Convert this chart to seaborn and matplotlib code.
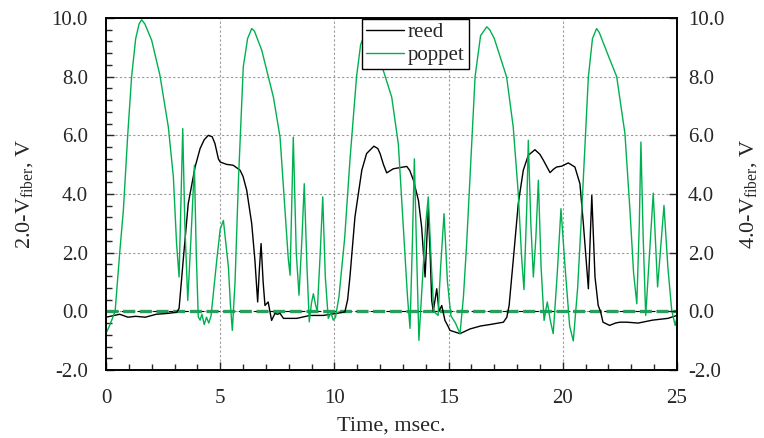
import matplotlib
matplotlib.use("Agg")
import matplotlib.pyplot as plt
from matplotlib.ticker import MultipleLocator, FormatStrFormatter
import seaborn as sns
import pandas as pd

# ---- data ----
poppet_t = [0.0, 0.15, 0.4, 0.6, 0.76, 0.95, 1.12, 1.3, 1.45, 1.56, 1.7, 2.0, 2.36, 2.73, 2.95, 3.09, 3.2,
            3.36, 3.45, 3.58, 3.72, 3.87, 3.95, 4.04, 4.12, 4.2, 4.3, 4.4, 4.5, 4.6, 4.85, 5.0, 5.14,
            5.36, 5.45, 5.53, 5.65, 5.8, 6.01, 6.2, 6.38, 6.5, 6.82, 7.33, 7.62, 7.84, 7.98, 8.06, 8.2,
            8.33, 8.45, 8.58, 8.68, 8.8, 8.9, 9.0, 9.08, 9.18, 9.25, 9.38, 9.49, 9.6, 9.73, 9.85,
            9.95, 10.05, 10.2, 10.45, 10.68, 10.97, 11.15, 11.34, 11.5, 12.0, 12.51, 12.8, 13.02, 13.2,
            13.31, 13.42, 13.5, 13.6, 13.7, 13.85, 14.0, 14.11, 14.25, 14.35, 14.54, 14.65, 14.8,
            14.95, 15.1, 15.3, 15.5, 15.65, 15.79, 16.0, 16.16, 16.4, 16.67, 16.8, 17.0, 17.54, 17.83,
            18.05, 18.2, 18.3, 18.42, 18.49, 18.6, 18.71, 18.82, 18.93, 19.05, 19.18, 19.32, 19.45,
            19.58, 19.75, 19.92, 20.1, 20.3, 20.46, 20.65, 20.83, 21.12, 21.3, 21.48, 21.6, 22.0, 22.36,
            22.72, 22.94, 23.1, 23.24, 23.35, 23.42, 23.52, 23.63, 23.8, 23.96, 24.05, 24.15, 24.3,
            24.43, 24.6, 24.77, 24.92, 25.0]
poppet_v = [-0.75, -0.5, 0.0, 2.0, 3.44, 6.0, 7.99, 9.3, 9.8, 9.94, 9.8, 9.24, 8.05, 6.28, 4.58, 2.3, 1.17,
            6.23, 3.0, 0.37, 2.5, 4.98, 2.0, -0.19, -0.3, -0.1, -0.45, -0.2, -0.4, -0.15, 1.75, 2.8, 3.1,
            1.5, 0.2, -0.65, 1.0, 4.5, 8.33, 9.3, 9.64, 9.55, 8.9, 7.3, 5.94, 3.44, 1.8, 1.23, 5.94,
            2.0, 0.55, 2.5, 4.35, 1.5, -0.36, 0.3, 0.6, 0.2, 0.0, 2.0, 3.9, 1.2, -0.24, -0.05,
            -0.3, -0.2, 0.5, 2.5, 5.15, 8.0, 9.1, 9.45, 9.35, 8.56, 7.3, 5.7, 2.87, 0.5,
            -0.58, 2.5, 5.2, 2.0, -0.99, 1.0, 3.0, 3.9, 1.5, 0.0, -0.14, 1.5, 3.33,
            1.0, -0.15, -0.4, -0.76, 0.5, 2.3, 5.5, 8.0, 9.4, 9.7, 9.6, 9.3, 7.99, 6.28,
            4.02, 1.8, 0.74, 3.5, 5.83, 3.0, 1.17, 2.5, 4.47, 1.5, -0.31, 0.32, -0.3,
            -0.76, 1.2, 3.5, 1.5, -0.5, -1.01, 0.8, 3.44, 8.0, 9.3, 9.64, 9.5, 8.7, 8.0,
            6.06, 3.44, 1.3, 0.26, 3.0, 5.77, 2.5, -0.14, 2.0, 4.03, 2.5, 0.83, 2.3,
            3.61, 1.5, 0.03, -0.48, -0.2]

reed_t = [0.0, 0.3, 0.6, 0.96, 1.3, 1.72, 2.2, 2.71, 3.1, 3.2, 3.38, 3.6, 3.9, 4.12, 4.3, 4.48,
          4.65, 4.77, 4.92, 5.0, 5.28, 5.57, 5.87, 6.0, 6.16, 6.38, 6.52, 6.64, 6.72, 6.79, 6.88,
          6.96, 7.1, 7.25, 7.4, 7.5, 7.62, 7.77, 8.35, 8.93, 9.51, 10.1, 10.46, 10.58, 10.68, 10.9,
          11.2, 11.41, 11.73, 11.9, 12.0, 12.15, 12.29, 12.58, 13.17, 13.3, 13.46, 13.68, 13.82,
          13.97, 14.05, 14.11, 14.2, 14.26, 14.33, 14.48, 14.58, 14.7, 14.84, 14.99, 15.06, 15.5,
          15.94, 16.4, 16.81, 17.4, 17.55, 17.65, 17.83, 18.05, 18.27, 18.49, 18.78, 19.0, 19.15,
          19.44, 19.6, 19.73, 19.96, 20.24, 20.53, 20.75, 20.9, 21.12, 21.2, 21.27, 21.41, 21.55,
          21.65, 21.76, 22.05, 22.3, 22.5, 22.8, 23.3, 23.93, 24.6, 25.0]
reed_v = [-0.2, -0.15, -0.1, -0.2, -0.17, -0.2, -0.1, -0.07, -0.03, 0.1, 1.74, 3.67, 4.92, 5.55, 5.85, 6.0,
          5.95, 5.72, 5.2, 5.09, 5.01, 4.98, 4.81, 4.6, 4.13, 2.99, 1.74, 0.32, 1.5, 2.31, 1.0,
          0.2, 0.32, -0.31, -0.07, -0.1, -0.07, -0.24, -0.24, -0.14, -0.14, -0.07, -0.02, 0.4, 1.17, 3.22,
          4.81, 5.38, 5.63, 5.55, 5.38, 5.0, 4.72, 4.86, 4.94, 4.8, 4.47, 3.78, 2.87,
          1.17, 2.5, 3.5, 1.8, 0.37, 0.0, 0.77, 0.0, 0.2, -0.31, -0.53, -0.65, -0.76,
          -0.6, -0.5, -0.45, -0.37, -0.2, 0.2, 1.74, 3.67, 4.81, 5.32, 5.51, 5.35, 5.15,
          4.73, 4.85, 4.92, 4.95, 5.06, 4.92, 4.35, 2.99, 0.77, 2.5, 3.95, 1.17, 0.2,
          0.0, -0.37, -0.48, -0.4, -0.37, -0.37, -0.4, -0.3, -0.24, -0.14]

series_names = ["reed", "poppet"]
series_colors = ["#000000", "#00b050"]
zero_line_color = "#2a9d5c"
x_label = "Time, msec."
y_left_label = r"2.0-V$_{\mathregular{fiber}}$, V"
y_right_label = r"4.0-V$_{\mathregular{fiber}}$, V"

# ---- style ----
sns.set_style("ticks")
plt.rcParams["font.family"] = ["Liberation Serif", "DejaVu Serif"]
plt.rcParams["mathtext.fontset"] = "custom"
plt.rcParams["mathtext.rm"] = "Liberation Serif"
plt.rcParams["mathtext.it"] = "Liberation Serif:italic"
plt.rcParams["axes.unicode_minus"] = False

df = pd.concat([
    pd.DataFrame({"t": reed_t, "v": reed_v, "series": series_names[0]}),
    pd.DataFrame({"t": poppet_t, "v": poppet_v, "series": series_names[1]}),
])

fig = plt.figure(figsize=(7.64, 4.38), dpi=100)
ax = fig.add_axes([106 / 764, 1 - 370 / 438, (677 - 106) / 764, (370 - 18) / 438])

# zero reference line
ax.axhline(0, color="black", lw=0.8, ls=(0, (4, 3)), zorder=1)
ax.axhline(0, color=zero_line_color, lw=2.4, ls=(0, (3.6, 1.4)), zorder=1)

for name, col in zip(series_names, series_colors):
    sub = df[df["series"] == name]
    sns.lineplot(data=sub, x="t", y="v", ax=ax, color=col, lw=1.0, label=name,
                 sort=False, estimator=None, zorder=3)

ax.set_xlim(0, 25)
ax.set_ylim(-2, 10)
ax.xaxis.set_major_locator(MultipleLocator(5))
ax.xaxis.set_minor_locator(MultipleLocator(1))
ax.yaxis.set_major_locator(MultipleLocator(2))
ax.yaxis.set_minor_locator(MultipleLocator(0.4))
ax.yaxis.set_major_formatter(FormatStrFormatter("%.1f"))
ax.grid(True, which="major", color="#9a9a9a", ls=(0, (2, 2)), lw=0.8)
ax.tick_params(axis="both", which="both", direction="in", labelsize=15, top=False, right=False)
ax.tick_params(axis="y", which="major", length=6, width=1.0, pad=13)
ax.tick_params(axis="x", which="major", length=6, width=1.0, pad=14)
ax.tick_params(axis="both", which="minor", length=4, width=1.0)
ax.set_xlabel(x_label, fontsize=16, labelpad=6)
ax.set_ylabel(y_left_label, fontsize=16, labelpad=12)
for s in ax.spines.values():
    s.set_color("black")
    s.set_linewidth(1.2)

ax2 = ax.twinx()
ax2.set_ylim(-2, 10)
ax2.yaxis.set_major_locator(MultipleLocator(2))
ax2.yaxis.set_major_formatter(FormatStrFormatter("%.1f"))
ax2.tick_params(axis="y", which="major", direction="in", length=6, width=1.0, labelsize=15, pad=8)
ax2.set_ylabel(y_right_label, fontsize=16, rotation=90, labelpad=10)
for s in ax2.spines.values():
    s.set_color("black")
    s.set_linewidth(1.2)

leg = ax.legend(loc="upper center", bbox_to_anchor=(0.542, 0.998), fontsize=15, frameon=True,
                fancybox=False, edgecolor="black", framealpha=1, borderaxespad=0,
                handlelength=1.8, handletextpad=0.2, borderpad=0.2, labelspacing=0.15)
leg.get_frame().set_linewidth(1.0)
leg.set_zorder(5)

fig.savefig("out.png", dpi=100)
